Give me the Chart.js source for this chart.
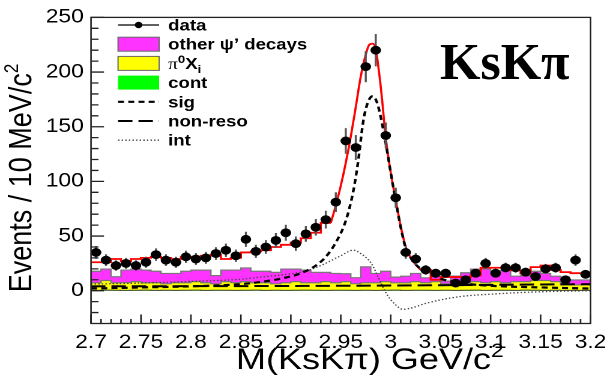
<!DOCTYPE html>
<html>
<head>
<meta charset="utf-8">
<script src="https://cdn.jsdelivr.net/npm/chart.js@4.4.0/dist/chart.umd.min.js"></script>
<style>
  html, body { margin: 0; padding: 0; background: #fff; }
  #plot { display: block; width: 616px; height: 382px; }
</style>
</head>
<body>
<canvas id="plot" width="513" height="382" style="width:616px;height:382px"></canvas>
<script>
// ---- histogram binning: 10 MeV bins from 2.70 to 3.20 GeV ----
const binEdges = [2.70, 2.71, 2.72, 2.73, 2.74, 2.75, 2.76, 2.77, 2.78, 2.79,
                  2.80, 2.81, 2.82, 2.83, 2.84, 2.85, 2.86, 2.87, 2.88, 2.89,
                  2.90, 2.91, 2.92, 2.93, 2.94, 2.95, 2.96, 2.97, 2.98, 2.99,
                  3.00, 3.01, 3.02, 3.03, 3.04, 3.05, 3.06, 3.07, 3.08, 3.09,
                  3.10, 3.11, 3.12, 3.13, 3.14, 3.15, 3.16, 3.17, 3.18, 3.19, 3.20];

// observed events per bin and their errors
const dataCounts = [35, 28, 23, 25, 23, 26, 33, 28, 26, 31,
                    29, 30, 34, 37, 32, 47, 36, 40, 46, 53,
                    43, 52, 58, 65, 81, 137, 131, 205, 220, 142,
                    85, 35, 29, 19, 16, 16, 7, 10, 16, 25,
                    16, 21, 21, 17, 13, 20, 21, 10, 28, 15];
const dataErrors = [5.9, 5.3, 4.8, 5.0, 4.8, 5.1, 5.7, 5.3, 5.1, 5.6,
                    5.4, 5.5, 5.8, 6.1, 5.7, 6.9, 6.0, 6.3, 6.8, 7.3,
                    6.6, 7.2, 7.6, 8.1, 9.0, 11.7, 11.4, 14.3, 14.8, 11.9,
                    9.2, 5.9, 5.4, 4.4, 4.0, 4.0, 2.6, 3.2, 4.0, 5.0,
                    4.0, 4.6, 4.6, 4.1, 3.6, 4.5, 4.6, 3.2, 5.3, 3.9];

// background histograms (stacked: cont, pi0 X_i, other psi' decays)
const contCounts = [0.4, 0.3, 0.5, 0.4, 0.3, 0.4, 0.5, 0.3, 0.4, 0.3,
                    0.4, 0.5, 0.3, 0.4, 0.4, 0.3, 0.4, 0.5, 0.3, 0.4,
                    0.3, 0.4, 0.5, 0.4, 0.3, 0.4, 0.4, 0.3, 0.4, 0.3,
                    0.4, 0.5, 0.3, 0.4, 0.4, 0.3, 0.4, 0.3, 0.4, 0.5,
                    0.3, 0.4, 0.4, 0.3, 0.5, 0.4, 0.3, 0.4, 0.3, 0.3];
const pi0XiCounts = [6.9, 7.0, 8.8, 6.9, 7.1, 7.9, 6.8, 7.0, 5.9, 7.0,
                     6.9, 7.8, 7.0, 5.9, 7.9, 7.1, 7.9, 6.8, 7.0, 5.9,
                     7.0, 7.9, 6.8, 6.9, 8.0, 6.9, 7.9, 6.1, 6.9, 7.0,
                     7.9, 6.8, 7.0, 7.9, 6.9, 8.0, 5.9, 7.1, 5.9, 7.8,
                     7.0, 7.9, 6.9, 8.0, 7.8, 8.9, 9.0, 7.9, 5.1, 5.0];
const otherPsiCounts = [10.5, 10.5, 10.5, 5.5, 11.5, 11.5, 11.5, 10.5, 9.5, 8.5,
                        10.5, 10.5, 11.5, 7.5, 10.5, 11.5, 12.5, 10.5, 10.5, 10.5,
                        12.5, 11.5, 11.5, 9.5, 8.5, 8.5, 7.2, 5.5, 14.5, 8.5,
                        9.5, 5.1, 6, 7.5, 4.5, 5, 2.5, 6, 10.1, 11.5,
                        12.5, 8.1, 11.2, 5, 5.5, 8.5, 6.5, 5, 4.5, 4.5];

// total fit: binned part away from the peak (null = smooth part below)
const fitBinned = [26, 26, 29, 27, 29, 30, 31, 30, 29, 31,
                   31, 32, 33, 29, 30, 35, 36, 37, 40, 42,
                   44, 48, 53, 62, null, null, null, null, null, null,
                   null, null, null, 19, 10, 12.5, 12.5, 12.5, 14, 21,
                   21, 21, 18.6, 15.6, 21.6, 23, 19, 17, 16, 16];
const fitPeakMass = [2.94, 2.945, 2.95, 2.955, 2.96, 2.965, 2.97, 2.975, 2.9785, 2.982,
                     2.985, 2.988, 2.991, 2.995, 3.0, 3.005, 3.01, 3.015, 3.02, 3.025, 3.03];
const fitPeakVals = [62, 78, 96, 117, 141, 168, 196, 216, 225, 226,
                     221, 202, 178, 140, 108, 83, 59, 40, 30, 24, 19];

// fit components
const sigMass = [2.70, 2.75, 2.80, 2.85, 2.87, 2.89, 2.91, 2.925, 2.935, 2.945,
                 2.955, 2.9625, 2.9675, 2.9725, 2.977, 2.982, 2.987, 2.994, 3.0, 3.005,
                 3.01, 3.015, 3.02, 3.025, 3.035, 3.05, 3.07, 3.10, 3.15, 3.20];
const sigVals = [2, 3, 4, 6, 8, 11, 16, 23, 31, 44,
                 64, 91, 119, 155, 172, 178, 170, 140, 108, 82,
                 58, 39, 30, 24, 17, 11, 7, 4.5, 3, 2];
const intMass = [2.70, 2.75, 2.80, 2.85, 2.87, 2.90, 2.915, 2.93, 2.95, 2.9625,
                 2.97, 2.9805, 2.989, 2.9955, 3.005, 3.012, 3.02, 3.035, 3.0675, 3.10,
                 3.15, 3.20];
const intVals = [6, 7, 8.5, 10.5, 12.5, 15.5, 18, 23, 32, 37,
                 34, 25, 9.5, -2.5, -13, -17, -16, -11.6, -5.6, -3.2,
                 -1, 0];
const nonResoMass = [2.70, 2.95, 3.20];
const nonResoVals = [4, 4.5, 6];

// axis ticks
const massTicks = [2.7, 2.75, 2.8, 2.85, 2.9, 2.95, 3.0, 3.05, 3.1, 3.15, 3.2];
const massTickLabels = ['2.7', '2.75', '2.8', '2.85', '2.9', '2.95', '3', '3.05', '3.1', '3.15', '3.2'];
const countTicks = [0, 50, 100, 150, 200, 250];
const countTickLabels = ['0', '50', '100', '150', '200', '250'];

// ---- derived plotting tables ----
const SANS = '"Liberation Sans", Arial, Helvetica, sans-serif';
const SERIF = '"Liberation Serif", "Times New Roman", serif';
const MAGENTA = '#ff33ff', YELLOW = '#ffff00', GREEN = '#00ff00';
const CANVAS_STRETCH = 616 / 513; // the canvas is shown wider than its drawing buffer

const binCenters = dataCounts.map((_, i) => (binEdges[i] + binEdges[i + 1]) / 2);
const pairs = (xs, ys) => xs.map((x, i) => ({ x, y: ys[i] }));

// step outline (value held over each bin, closed at the last edge)
function stepPoints(vals) {
  const pts = vals.map((v, i) => ({ x: binEdges[i], y: v }));
  pts.push({ x: binEdges[vals.length], y: vals[vals.length - 1] });
  return pts;
}
const stackCont = contCounts.slice();
const stackPi0 = pi0XiCounts.map((v, i) => v + stackCont[i]);
const stackOther = otherPsiCounts.map((v, i) => v + stackPi0[i]);

// binned fit polyline, with a gap where the smooth peak takes over
const fitStepPts = [];
fitBinned.forEach((v, i) => {
  if (v === null) {
    if (fitStepPts.length && fitStepPts[fitStepPts.length - 1].y !== null) fitStepPts.push({ x: binEdges[i] + 0.005, y: null });
    return;
  }
  fitStepPts.push({ x: binEdges[i], y: v }, { x: binEdges[i + 1], y: v });
});

// ---- plugins ----
function drawRich(ctx, parts, x, y, align) {
  let total = 0;
  parts.forEach(p => { ctx.font = p.font; p.w = ctx.measureText(p.text).width; total += p.w; });
  let cx = align === 'center' ? x - total / 2 : x;
  ctx.textAlign = 'left';
  parts.forEach(p => { ctx.font = p.font; ctx.fillText(p.text, cx, y + (p.dy || 0)); cx += p.w; });
}

const errorBars = {
  id: 'errorBars',
  beforeDatasetDraw(chart, args) {
    const ds = chart.data.datasets[args.index];
    if (!ds.errors) return;
    const { ctx, scales: { x, y } } = chart;
    ctx.save();
    ctx.lineWidth = 1.7;
    ds.data.forEach((p, i) => {
      const px = x.getPixelForValue(p.x), py = y.getPixelForValue(p.y);
      ctx.strokeStyle = '#555';
      ctx.beginPath();
      ctx.moveTo(px, y.getPixelForValue(p.y + ds.errors[i]));
      ctx.lineTo(px, y.getPixelForValue(p.y - ds.errors[i]));
      ctx.stroke();
      ctx.strokeStyle = '#000';
      ctx.beginPath();
      ctx.moveTo(x.getPixelForValue(p.x - 0.005), py);
      ctx.lineTo(x.getPixelForValue(p.x + 0.005), py);
      ctx.stroke();
    });
    ctx.restore();
  }
};

const frameTicks = {
  id: 'frameTicks',
  afterDatasetsDraw(chart) {
    const { ctx, chartArea: a, scales: { x, y } } = chart;
    ctx.save();
    ctx.strokeStyle = '#222';
    ctx.lineWidth = 1.3;
    ctx.strokeRect(a.left, a.top, a.right - a.left, a.bottom - a.top);
    ctx.beginPath();
    for (let v = -20; v <= 250; v += 10) {
      const py = y.getPixelForValue(v);
      const len = v % 50 === 0 ? 10.8 : 6.2;
      ctx.moveTo(a.left, py); ctx.lineTo(a.left + len, py);
    }
    binEdges.forEach((m, i) => {
      const px = x.getPixelForValue(m);
      const len = i % 5 === 0 ? 9 : 4.5;
      ctx.moveTo(px, a.bottom); ctx.lineTo(px, a.bottom - len);
    });
    ctx.stroke();
    ctx.restore();
  }
};

const annotations = {
  id: 'annotations',
  afterDraw(chart) {
    const { ctx } = chart;
    ctx.save();
    ctx.fillStyle = '#000';
    ctx.textBaseline = 'alphabetic';

    // legend
    const x0 = 98.3, x1 = 132.5, tx = 140, y0 = 25, dy = 19.2;
    const bold = `bold 15.5px ${SANS}`;
    chart.data.datasets
      .filter(d => d.legendRank !== undefined)
      .sort((a, b) => a.legendRank - b.legendRank)
      .forEach((d, k) => {
        const yc = y0 + k * dy;
        ctx.save();
        if (d.legendKind === 'marker') {
          ctx.strokeStyle = '#000'; ctx.lineWidth = 1.3;
          ctx.beginPath(); ctx.moveTo(x0, yc); ctx.lineTo(x1, yc); ctx.stroke();
          ctx.beginPath(); ctx.arc((x0 + x1) / 2, yc, 3.2, 0, Math.PI * 2); ctx.fill();
        } else if (d.legendKind === 'box') {
          ctx.fillStyle = d.backgroundColor;
          ctx.fillRect(x0, yc - 7, x1 - x0, 14);
          if (d.legendEdge) {
            ctx.strokeStyle = '#666'; ctx.lineWidth = 1;
            ctx.strokeRect(x0, yc - 7, x1 - x0, 14);
          }
        } else {
          ctx.strokeStyle = d.borderColor; ctx.lineWidth = d.borderWidth;
          ctx.setLineDash(d.borderDash || []);
          ctx.beginPath(); ctx.moveTo(x0, yc); ctx.lineTo(x1, yc); ctx.stroke();
        }
        ctx.restore();
        ctx.fillStyle = '#000';
        if (d.labelParts) drawRich(ctx, d.labelParts, tx, yc + 5.5, 'left');
        else { ctx.font = bold; ctx.textAlign = 'left'; ctx.fillText(d.label, tx, yc + 5.5); }
      });

    // channel label, drawn at its natural proportions
    ctx.save();
    ctx.scale(1 / CANVAS_STRETCH, 1);
    ctx.font = `bold 52px ${SERIF}`;
    ctx.textAlign = 'left';
    ctx.fillText('KsKπ', 440, 79);
    ctx.restore();

    // x-axis title
    drawRich(ctx, [
      { text: 'M(KsKπ) GeV/c', font: `30px ${SANS}` },
      { text: '2', font: `19px ${SANS}`, dy: -12 }
    ], 308, 369, 'center');

    // y-axis title
    ctx.save();
    ctx.translate(26, 178);
    ctx.rotate(-Math.PI / 2);
    drawRich(ctx, [
      { text: 'Events / 10 MeV/c', font: `27px ${SANS}` },
      { text: '2', font: `17px ${SANS}`, dy: -11 }
    ], 0, 0, 'center');
    ctx.restore();

    ctx.restore();
  }
};

// ---- chart ----
new Chart(document.getElementById('plot'), {
  type: 'line',
  data: {
    datasets: [
      {
        label: 'data', legendRank: 0, legendKind: 'marker',
        data: pairs(binCenters, dataCounts), errors: dataErrors,
        showLine: false, pointRadius: 4.4, pointBackgroundColor: '#000',
        pointBorderWidth: 0, order: 0
      },
      {
        label: 'sig', legendRank: 4, legendKind: 'line',
        data: pairs(sigMass, sigVals), borderColor: '#000', borderWidth: 2.2,
        borderDash: [5, 3.5], pointRadius: 0, cubicInterpolationMode: 'monotone', order: 1
      },
      {
        label: 'non-reso', legendRank: 5, legendKind: 'line',
        data: pairs(nonResoMass, nonResoVals), borderColor: '#000', borderWidth: 2,
        borderDash: [12, 5], pointRadius: 0, cubicInterpolationMode: 'monotone', order: 1
      },
      {
        label: 'int', legendRank: 6, legendKind: 'line',
        data: pairs(intMass, intVals), borderColor: '#444', borderWidth: 1.3,
        borderDash: [1.2, 1.8], pointRadius: 0, cubicInterpolationMode: 'monotone', order: 1
      },
      {
        label: 'fit', data: fitStepPts, borderColor: '#ff0000', borderWidth: 1.8,
        pointRadius: 0, spanGaps: false, order: 2
      },
      {
        label: 'fit peak', data: pairs(fitPeakMass, fitPeakVals), borderColor: '#ff0000',
        borderWidth: 1.8, pointRadius: 0, cubicInterpolationMode: 'monotone', order: 2
      },
      {
        label: 'cont', legendRank: 3, legendKind: 'box',
        data: stepPoints(stackCont), stepped: 'after', fill: 'origin',
        backgroundColor: GREEN, borderColor: '#444', borderWidth: 1, pointRadius: 0, order: 5
      },
      {
        label: 'π0Xi', legendRank: 2, legendKind: 'box', legendEdge: true,
        labelParts: [
          { text: 'π', font: `16px ${SERIF}` },
          { text: '0', font: `bold 11px ${SANS}`, dy: -6 },
          { text: 'X', font: `bold 15.5px ${SANS}` },
          { text: 'i', font: `bold 11px ${SANS}`, dy: 4 }
        ],
        data: stepPoints(stackPi0), stepped: 'after', fill: 'origin',
        backgroundColor: YELLOW, borderColor: '#777', borderWidth: 1.2, pointRadius: 0, order: 6
      },
      {
        label: 'other ψ’ decays', legendRank: 1, legendKind: 'box', legendEdge: true,
        data: stepPoints(stackOther), stepped: 'after', fill: 'origin',
        backgroundColor: MAGENTA, borderColor: '#777', borderWidth: 1.2, pointRadius: 0, order: 7
      }
    ]
  },
  options: {
    responsive: false,
    devicePixelRatio: 2,
    animation: false,
    events: [],
    layout: { padding: { top: 15, right: 15.5, left: 0, bottom: 0 } },
    plugins: { legend: { display: false }, tooltip: { enabled: false } },
    scales: {
      x: {
        type: 'linear', min: 2.7, max: 3.2,
        grid: { display: false, drawTicks: false },
        border: { display: false },
        afterBuildTicks: s => { s.ticks = massTicks.map(v => ({ value: v })); },
        afterFit: s => { s.height = 58.5; },
        ticks: {
          autoSkip: false, maxRotation: 0, minRotation: 0, padding: 8,
          color: '#000', font: { family: SANS, size: 19 },
          callback: (v, i) => massTickLabels[i]
        }
      },
      y: {
        type: 'linear', min: -30, max: 250,
        grid: { display: false, drawTicks: false },
        border: { display: false },
        afterBuildTicks: s => { s.ticks = countTicks.map(v => ({ value: v })); },
        afterFit: s => { s.width = 75.8; },
        ticks: {
          padding: 6, color: '#000', font: { family: SANS, size: 19 },
          callback: (v, i) => countTickLabels[i]
        }
      }
    }
  },
  plugins: [errorBars, frameTicks, annotations]
});
</script>
</body>
</html>
